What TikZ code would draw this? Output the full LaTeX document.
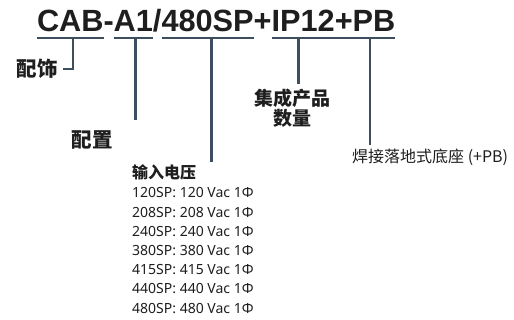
\documentclass[tikz,border=0pt]{standalone}
\usepackage{fontspec}
\setmainfont{Noto Sans CJK SC}
\newfontfamily\codefont{Noto Sans}
\newfontfamily\titlefont{Liberation Sans}
\usetikzlibrary{positioning}
\definecolor{barcol}{HTML}{3D4F5E}
\definecolor{inkcol}{HTML}{1E1E1E}

\begin{document}
\begin{tikzpicture}[x=1pt,y=-1pt,
  part/.style={inner sep=0pt,outer sep=0pt,text=inkcol,
    font=\titlefont\fontsize{30.7}{32}\selectfont\bfseries},
  bar/.style={draw=barcol,line width=2.6pt},
  tick/.style={draw=barcol,line width=2.6pt},
  biglabel/.style={inner sep=0pt,text=inkcol,align=center,
    font=\fontsize{20.5}{21}\selectfont\bfseries},
  midlabel/.style={inner sep=0pt,text=inkcol,align=center,
    font=\fontsize{19}{20}\selectfont\bfseries},
  listline/.style={inner sep=0pt,anchor=base west,text=inkcol,
    font=\codefont\fontsize{14}{16}\selectfont}]
\useasboundingbox (0,0) rectangle (514,320);

% the code
\node[part,anchor=base west] (cab) at (37,32) {CAB};
\node[part,base right=0pt of cab] (dash) {-};
\node[part,base right=0pt of dash] (cfg) {A1};
\node[part,base right=0pt of cfg] (slash) {/};
\node[part,base right=0pt of slash] (volt) {480SP};
\node[part,base right=0pt of volt] (plus) {+};
\node[part,base right=0pt of plus] (qty) {IP12};
\node[part,base right=0pt of qty] (pb) {+PB};

% brackets under the parts
\draw[bar] ([yshift=-6pt]cab.base west) -- ([yshift=-6pt]cab.base east)
  coordinate[pos=0.54] (cabtick);
\draw[bar] ([yshift=-6pt]cfg.base west) -- ([yshift=-6pt]cfg.base east)
  coordinate[pos=0.56] (cfgtick);
\draw[bar] ([yshift=-6pt]volt.base west) -- ([yshift=-6pt]volt.base east)
  coordinate[pos=0.54] (volttick);
\draw[bar] ([yshift=-6pt]qty.base west) -- ([yshift=-6pt]qty.base east)
  coordinate[pos=0.43] (qtytick);
\draw[bar] ([yshift=-6pt]pb.base west) -- ([yshift=-6pt]pb.base east)
  coordinate[pos=0.58] (pbtick);

% labels
\node[biglabel,anchor=east,inner xsep=5pt] (acc) at (63,69) {配饰};
\node[biglabel] (conf) at (92,140) {配置};
\node[midlabel,anchor=north] (qtylab) at (292,89) {集成产品\\数量};
\node[inner sep=0pt,anchor=north west,text=inkcol,
  font=\fontsize{16}{17}\selectfont] (pblab) at (352,149) {焊接落地式底座 (+PB)};
\node[inner sep=0pt,anchor=base west,text=inkcol,
  font=\fontsize{16}{17}\selectfont\bfseries] (vhead) at (132,179) {输入电压};
\foreach \v [count=\i] in {120,208,240,380,415,440,480} {
  \node[listline] (v\v) at (132,{198+19.2*(\i-1)}) {\v SP: \v{} Vac 1Φ};
}

% ticks down to the labels
\draw[tick] (cabtick) |- (acc.east);
\draw[tick] (cfgtick) -- ++(0,82) coordinate (cfgend);
\draw[tick] (volttick) -- ([yshift=3pt]volttick |- vhead.north);
\draw[tick] (qtytick) -- ([yshift=5pt]qtytick |- qtylab.north);
\draw[tick] (pbtick) -- ([yshift=4pt]pbtick |- pblab.north);
\end{tikzpicture}
\end{document}
